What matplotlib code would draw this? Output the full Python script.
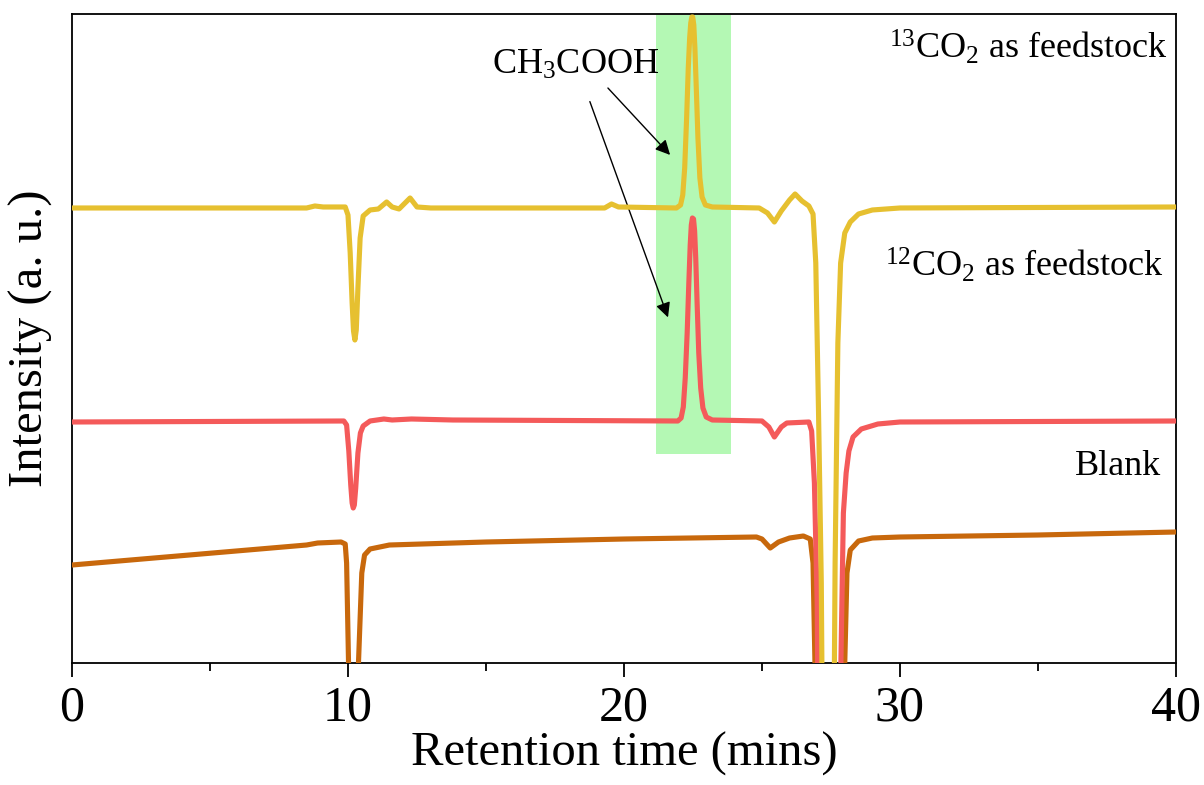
import matplotlib
matplotlib.use("Agg")
import matplotlib.pyplot as plt
from matplotlib.ticker import MultipleLocator

plt.rcParams['font.family'] = ['Liberation Serif', 'DejaVu Serif']
plt.rcParams['mathtext.fontset'] = 'custom'
plt.rcParams['mathtext.rm'] = 'Liberation Serif'
plt.rcParams['mathtext.it'] = 'Liberation Serif:italic'

# 13CO2 trace (time in mins, intensity a.u.)
t_13 = [0, 8.5, 8.8, 9.1, 9.9, 10.0, 10.08, 10.15, 10.2, 10.25, 10.3, 10.36, 10.44, 10.55,
        10.8, 11.1, 11.4, 11.6, 11.85, 12.25, 12.5, 13, 19.3, 19.55, 19.8, 21.9, 22.05,
        22.13, 22.2, 22.27, 22.33, 22.38, 22.42, 22.46, 22.49, 22.53, 22.57, 22.62, 22.68,
        22.75, 22.83, 22.95, 23.2, 24.9, 25.2, 25.45, 25.7, 26.0, 26.2, 26.45, 26.7, 26.85,
        26.95, 27.05, 27.15, 27.25, 27.55, 27.65, 27.75, 27.85, 28.0, 28.2, 28.5, 29.0,
        30, 40]
i_13 = [455, 455, 457, 456, 456, 448, 410, 360, 332, 323, 333, 375, 425, 447,
        453, 454, 461, 456, 454, 465, 456, 455, 455, 459, 456, 455, 458,
        468, 495, 545, 595, 625, 640, 646, 646, 638, 615, 575, 525,
        485, 466, 458, 456, 455, 450, 441, 452, 463, 469, 462, 457, 449,
        400, 250, 80, -300, -300, 100, 320, 400, 430, 441, 449, 453,
        455, 456]

# 12CO2 trace
t_12 = [0, 9.85, 9.95, 10.03, 10.1, 10.15, 10.19, 10.23, 10.28, 10.36, 10.45, 10.55, 10.8,
        11.3, 11.6, 12.3, 13.8, 21.95, 22.07, 22.15, 22.22, 22.29, 22.35, 22.4, 22.44,
        22.48, 22.52, 22.56, 22.6, 22.65, 22.71, 22.78, 22.86, 22.98, 23.2, 25.0, 25.25,
        25.45, 25.7, 25.9, 26.7, 26.8, 26.9, 27.0, 27.1, 27.7, 27.86, 27.95, 28.05, 28.15,
        28.3, 28.6, 29.2, 30, 40]
i_12 = [241, 242, 238, 212, 178, 160, 155, 158, 175, 210, 230, 237, 242,
        244, 243, 244, 243, 242, 245, 256, 285, 330, 380, 418, 438,
        445, 444, 432, 405, 360, 310, 275, 255, 246, 243, 242, 236,
        226, 236, 240, 241, 232, 180, 60, -300, -300, 0, 150, 190, 212,
        226, 234, 239, 241, 242]

# blank trace
t_bl = [0, 8.5, 8.9, 9.75, 9.9, 9.95, 10.02, 10.1, 10.3, 10.38, 10.5, 10.6, 10.8, 11.5,
        15, 20, 24.8, 25.0, 25.3, 25.6, 26.0, 26.5, 26.75, 26.85, 26.92, 27.0, 27.9,
        28.0, 28.08, 28.2, 28.5, 29, 30, 35, 40]
i_bl = [98, 118, 120, 121, 119, 100, 0, -200, -200, 0, 90, 108, 114, 118,
        121, 124, 126, 124, 115, 121, 125, 127, 124, 100, 0, -300, -300,
        0, 90, 113, 122, 125, 126, 128, 131]

band = [21.16, 23.88]

fig = plt.figure(figsize=(12.04, 7.85), dpi=100)
ax = fig.add_axes([0.0598, 0.1554, 0.9169, 0.8268])

ax.fill_between(band, 209, 648, color='#b4f8b4', lw=0, zorder=1)
ax.plot(t_bl, i_bl, color='#c8680c', lw=3.7, zorder=3, solid_joinstyle='round')
ax.plot(t_12, i_12, color='#f45a5a', lw=3.7, zorder=4, solid_joinstyle='round')
ax.plot(t_13, i_13, color='#e6c030', lw=3.7, zorder=5, solid_joinstyle='round')

ax.set_xlim(0, 40)
ax.set_ylim(0, 649)
ax.set_yticks([])
ax.xaxis.set_major_locator(MultipleLocator(10))
ax.xaxis.set_minor_locator(MultipleLocator(5))
ax.tick_params(axis='x', which='major', direction='out', length=10, width=1.3,
               labelsize=36, pad=6)
ax.tick_params(axis='x', which='minor', direction='out', length=6, width=1.3)
for s in ax.spines.values():
    s.set_linewidth(1.3)

ax.set_xlabel('Retention time (mins)', fontsize=35, labelpad=0)
ax.set_ylabel('Intensity (a. u.)', fontsize=35, labelpad=14)

ax.text(39.7, 615, r'$^{13}$CO$_2$ as feedstock', fontsize=26, ha='right', va='center')
ax.text(39.55, 397, r'$^{12}$CO$_2$ as feedstock', fontsize=26, ha='right', va='center')
ax.text(39.45, 196, 'Blank', fontsize=26, ha='right', va='center')
ax.text(18.26, 598, r'CH$_3$COOH', fontsize=26, ha='center', va='center')

arrow = dict(arrowstyle='-|>', color='black', lw=1.0, mutation_scale=22)
ax.annotate('', xy=(21.74, 506), xytext=(19.35, 577), arrowprops=arrow)
ax.annotate('', xy=(21.63, 343), xytext=(18.73, 564), arrowprops=arrow)

fig.savefig('out.png', dpi=100)
